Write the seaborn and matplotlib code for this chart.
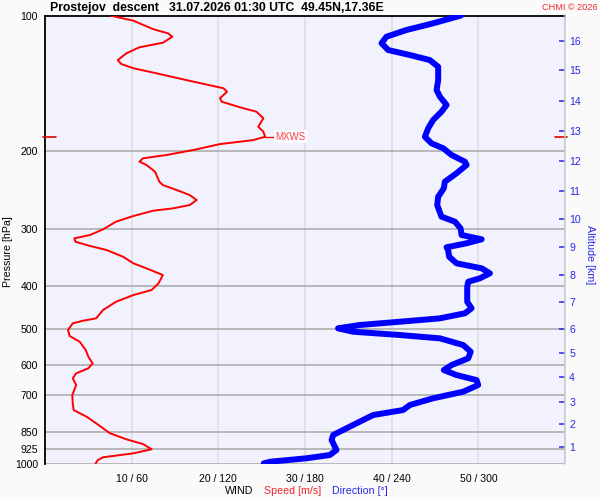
import numpy as np
import pandas as pd
import matplotlib
matplotlib.use("Agg")
import matplotlib.pyplot as plt
from matplotlib.ticker import NullLocator, FixedLocator
import seaborn as sns

# ---- data ----
speed_pres = [100.0, 102.7, 107.3, 109.6, 111.5, 115.0, 117.7, 121.4, 125.7, 128.3,
              131.1, 135.0, 139.3, 143.6, 145.3, 147.9, 152.9, 155.7, 160.2, 163.9,
              169.5, 177.0, 181.6, 186.4, 189.6, 193.5, 199.5, 204.7, 208.2, 211.8,
              215.4, 223.0, 234.8, 238.8, 245.0, 251.4, 257.9, 264.6, 269.1, 272.4,
              279.9, 288.2, 299.7, 308.6, 313.9, 319.4, 326.5, 333.3, 345.0, 356.9,
              366.2, 379.0, 395.5, 409.3, 420.0, 434.7, 453.6, 473.4, 479.2, 485.7,
              502.7, 518.4, 533.8, 557.0, 576.5, 596.4, 611.9, 627.8, 644.1, 666.6,
              701.7, 732.3, 758.0, 784.5, 811.5, 854.2, 881.0, 902.5, 927.3, 946.6,
              966.2, 979.7, 996.4]
speed_ms = [7.5, 10.2, 12.5, 14.2, 14.7, 13.6, 10.9, 9.4, 8.4, 8.8,
            10.2, 13.2, 16.3, 19.4, 20.6, 21.0, 20.2, 20.4, 22.5, 24.4,
            25.2, 24.6, 25.2, 25.4, 24.0, 20.2, 17.1, 14.0, 11.3, 10.9,
            11.7, 12.7, 13.2, 13.6, 15.2, 16.7, 17.5, 16.7, 14.8, 12.5,
            10.2, 8.2, 6.7, 5.2, 3.4, 3.5, 5.2, 7.1, 9.0, 10.2,
            11.7, 13.6, 13.1, 12.3, 10.2, 8.2, 6.7, 5.9, 4.4, 3.2,
            2.65, 2.85, 4.0, 4.7, 5.0, 5.5, 5.0, 3.6, 3.2, 3.6,
            3.15, 3.2, 3.3, 4.8, 5.9, 7.5, 9.4, 11.3, 12.3, 10.2,
            6.7, 6.1, 5.85]

dir_pres = [100.0, 104.1, 107.7, 111.5, 115.3, 119.4, 122.5, 125.7, 130.1, 139.3,
            146.6, 151.7, 158.3, 163.9, 171.0, 178.4, 186.4, 192.8, 197.7, 204.7,
            211.8, 215.4, 224.8, 234.8, 242.8, 253.6, 264.6, 280.9, 288.2, 298.2,
            308.6, 315.5, 322.0, 328.7, 333.3, 345.0, 356.9, 366.2, 375.7, 385.4,
            392.3, 402.4, 434.7, 449.6, 461.3, 473.4, 481.7, 489.9, 498.3, 507.1,
            515.7, 524.6, 542.9, 561.9, 581.3, 601.6, 617.3, 633.4, 650.0, 666.6,
            690.0, 713.6, 738.7, 758.0, 777.7, 798.0, 832.7, 861.7, 884.2, 930.6,
            954.9, 971.1, 988.3, 996.4]
dir_deg = [288.0, 268.7, 250.3, 236.4, 233.0, 237.6, 252.6, 266.4, 272.2, 272.2,
           271.1, 273.4, 278.0, 274.5, 268.7, 265.3, 263.0, 267.6, 275.7, 281.5,
           290.7, 291.9, 284.9, 276.8, 276.1, 272.2, 271.5, 274.5, 283.8, 287.7,
           288.4, 302.3, 291.9, 278.0, 279.1, 279.8, 284.9, 302.3, 308.0, 301.1,
           293.0, 292.3, 292.3, 295.3, 290.7, 273.4, 245.7, 217.9, 202.9, 213.3,
           245.7, 273.4, 289.5, 294.7, 293.0, 281.5, 276.1, 284.9, 298.8, 299.9,
           289.5, 268.7, 252.6, 247.9, 227.2, 220.2, 208.7, 199.5, 198.4, 201.8,
           197.2, 181.0, 156.0, 151.5]

p_ticks = [100, 200, 300, 400, 500, 600, 700, 850, 925, 1000]
speed_ticks = [10, 20, 30, 40, 50]
dir_ticks = [60, 120, 180, 240, 300]
alt_km = list(range(1, 17))
alt_pres = [914.9, 815.5, 726.3, 640.7, 566.5, 499.3, 434.6, 379.6,
            328.3, 284.7, 246.3, 211.4, 180.9, 155.1, 132.5, 113.8]

title = "Prostejov  descent   31.07.2026 01:30 UTC  49.45N,17.36E"

# ---- styling ----
sns.set_theme(style="white")
plt.rcParams['font.family'] = ['Liberation Sans', 'DejaVu Sans']

RED = "#FF0000"
BLUE = "#0000FF"
BLUE_TXT = "#2828E6"
RED_TXT = "#F02828"

fig = plt.figure(figsize=(6, 5), dpi=100, facecolor="#FAFAFA")
ax = fig.add_axes([45/600, 36/500, 520/600, 448.5/500])
ax.set_facecolor("#F2F2FF")
ax.set_yscale("log")
ax.set_xlim(0, 60)
ax.set_ylim(1000, 100)

# grid
for p in p_ticks[1:]:
    ax.axhline(p, color="#A8A8A8", lw=1.1, zorder=0.5)
for s in speed_ticks + [60]:
    ax.axvline(s, color="#DCDCDC", lw=1.1, zorder=0.4)

ax.yaxis.set_major_locator(FixedLocator(p_ticks))
ax.yaxis.set_minor_locator(NullLocator())
ax.set_yticklabels([str(p) for p in p_ticks])
ax.set_xticks(speed_ticks)
ax.set_xticklabels([f"{s} / {d}" for s, d in zip(speed_ticks, dir_ticks)])
ax.tick_params(axis="y", length=0, pad=5, labelsize=7.6, labelcolor="black")
ax.tick_params(axis="x", length=0, pad=7, labelsize=7.6, labelcolor="black")
for side in ["right", "bottom"]:
    ax.spines[side].set_visible(False)
for side in ["left", "top"]:
    ax.spines[side].set_color("black")
    ax.spines[side].set_linewidth(1.3)

# speed curve
df_s = pd.DataFrame({"pres": speed_pres, "speed": speed_ms})
sns.lineplot(data=df_s, x="speed", y="pres", ax=ax, color=RED, lw=1.4,
             sort=False, estimator=None, orient="y", legend=False, zorder=3)
ax.set_xlabel("")
ax.set_ylabel("")

# direction curve on twin x-axis
ax_dir = ax.twiny()
ax_dir.set_xlim(0, 360)
df_d = pd.DataFrame({"pres": dir_pres, "dir": dir_deg})
sns.lineplot(data=df_d, x="dir", y="pres", ax=ax_dir, color=BLUE, lw=4.3,
             sort=False, estimator=None, orient="y", legend=False,
             solid_capstyle="round", solid_joinstyle="round", zorder=3)
ax_dir.set_xticks([])
ax_dir.set_xlabel("")
ax_dir.set_ylabel("")
for sp in ax_dir.spines.values():
    sp.set_visible(False)

# altitude axis on the right
ax_alt = ax.twinx()
ax_alt.set_yscale("log")
ax_alt.set_ylim(1000, 100)
ax_alt.yaxis.set_major_locator(FixedLocator(alt_pres))
ax_alt.yaxis.set_minor_locator(NullLocator())
ax_alt.set_yticklabels([str(a) for a in alt_km])
ax_alt.tick_params(axis="y", direction="in", length=4.5, width=1.1, color=BLUE_TXT,
                   labelcolor=BLUE_TXT, labelsize=7.6, pad=3)
for sp in ax_alt.spines.values():
    sp.set_visible(False)
ax_alt.spines["right"].set_visible(True)
ax_alt.spines["right"].set_color("#C8C8C8")
ax_alt.spines["right"].set_linewidth(1.1)

# MXWS marker
imax = int(np.argmax(speed_ms))
p_mx = speed_pres[imax]
s_mx = speed_ms[imax]
ax.plot([s_mx, s_mx + 1.0], [p_mx, p_mx], color=RED, lw=1.0, zorder=3)
ax.text(s_mx + 1.2, p_mx, "MXWS", ha="left", va="center", color="#FF4040",
        fontsize=7, zorder=4,
        bbox=dict(boxstyle="square,pad=0.15", fc="#FAFAFF", ec="none"))
ax.plot([-0.004, 0.021], [p_mx, p_mx], transform=ax.get_yaxis_transform(),
        color="#E00000", lw=1.2, clip_on=False, zorder=5)
ax.plot([0.98, 1.003], [p_mx, p_mx], transform=ax.get_yaxis_transform(),
        color="#E00000", lw=1.2, clip_on=False, zorder=5)

# texts
fig.text(50/600, 1 - 7.5/500, title, ha="left", va="center", fontsize=8.8,
         fontweight="bold", color="black")
fig.text(597/600, 1 - 7.5/500, "CHMI © 2026", ha="right", va="center",
         fontsize=6.6, color=RED_TXT)
fig.text(8/600, 1 - 252/500, "Pressure [hPa]", rotation=90, ha="center",
         va="center", fontsize=7.7, color="black")
fig.text(590/600, 1 - 255/500, "Altitude [km]", rotation=270, ha="center",
         va="center", fontsize=7.7, color=BLUE_TXT)
fig.text(225/600, 1 - 491.5/500, "WIND", ha="left", va="center", fontsize=7.7,
         color="black")
fig.text(264/600, 1 - 491.5/500, "Speed [m/s]", ha="left", va="center",
         fontsize=7.7, color=RED_TXT)
fig.text(332/600, 1 - 491.5/500, "Direction [°]", ha="left", va="center",
         fontsize=7.7, color=BLUE_TXT)

fig.savefig("out.png", dpi=100, facecolor=fig.get_facecolor())
